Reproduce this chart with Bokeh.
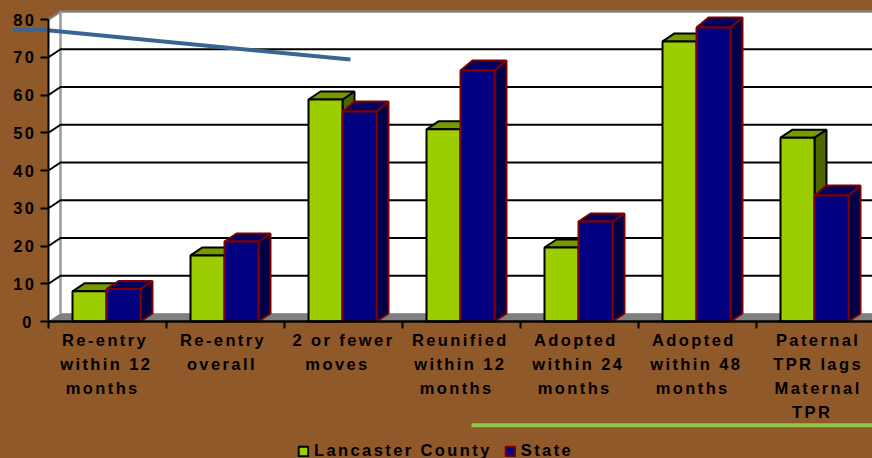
from bokeh.plotting import figure
from bokeh.models import (Range1d, ColumnDataSource, LinearAxis, FixedTicker, Legend, LegendItem,
                          GlobalInlineStyleSheet)
from bokeh.core.properties import value
from bokeh.embed import file_html
from bokeh.resources import INLINE

categories = ["Re-entry\nwithin 12\nmonths", "Re-entry\noverall", "2 or fewer\nmoves",
              "Reunified\nwithin 12\nmonths", "Adopted\nwithin 24\nmonths",
              "Adopted\nwithin 48\nmonths", "Paternal\nTPR lags\nMaternal\nTPR"]
lancaster = [8.0, 17.5, 58.8, 50.9, 19.6, 74.2, 48.7]
state = [8.6, 21.2, 55.6, 66.5, 26.5, 77.9, 33.4]
y_ticks = [0, 10, 20, 30, 40, 50, 60, 70, 80]
accent_blue_x = [-0.805, -0.53, 2.059]
accent_blue_y = [77.2, 77.2, 69.4]
accent_green_x = [3.085, 6.49]
accent_green_y = [-27.5, -27.5]

W, H = 872, 458
PX_PER_CAT = 118.0
PX_PER_UNIT = 3.775
X0_PX = 107.0
Y0_PX = 321.0
dx = 12 / PX_PER_CAT
dy = 8 / PX_PER_UNIT
bar_w = 34 / PX_PER_CAT
bar_shift = -1 / PX_PER_CAT

BROWN = "#8F5929"
FONT = "Liberation Sans"
FS = "16.5px"
n = len(categories)
xl = -0.5
xr = (W - X0_PX) / PX_PER_CAT
ytop = 80

p = figure(width=W, height=H, output_backend="svg", toolbar_location=None,
           x_range=Range1d(-X0_PX / PX_PER_CAT, xr),
           y_range=Range1d(-(H - Y0_PX) / PX_PER_UNIT, Y0_PX / PX_PER_UNIT),
           x_axis_location=None, y_axis_location=None,
           min_border=0, min_border_left=0, min_border_right=0, min_border_top=0, min_border_bottom=0,
           background_fill_color=BROWN, border_fill_color=BROWN, outline_line_color=None)
p.grid.visible = False
p.styles = {"letter-spacing": "2.4px"}
p.stylesheets = [GlobalInlineStyleSheet(css=f"html,body{{margin:0;padding:0;overflow:hidden;background:{BROWN}}}")]

# walls and floor
p.patch([xl, xl + dx, xl + dx, xl], [0, dy, ytop + dy, ytop], fill_color="white", line_color=None)
p.patch([xl + dx, xr, xr, xl + dx], [dy, dy, ytop + dy, ytop + dy], fill_color="white", line_color=None)
p.patch([xl, xl + dx, xr, xr], [0, dy, dy, 0], fill_color="#808080", line_color=None)
p.line([xl, xl + dx, xr], [ytop, ytop + dy, ytop + dy], line_color="#808080", line_width=2.5)
p.line([xl + dx, xl + dx], [dy, ytop + dy], line_color="#9A9A9A", line_width=2.5)

# gridlines
gv = [t for t in y_ticks if 0 < t < 80]
p.multi_line([[xl, xl + dx, xr] for _ in gv], [[t, t + dy, t + dy] for t in gv],
             line_color="black", line_width=2)


def bars(values, offset, face, top, side, edge, tall_depth):
    xs = [i + offset + bar_shift for i in range(n)]
    dd = [(tall_depth if v > 30 else 8) / PX_PER_UNIT for v in values]
    p.patches([[x + bar_w / 2, x + bar_w / 2 + dx, x + bar_w / 2 + dx, x + bar_w / 2] for x in xs],
              [[0, dy, v + d, v] for v, d in zip(values, dd)],
              fill_color=side, line_color=edge, line_width=2)
    p.patches([[x - bar_w / 2, x - bar_w / 2 + dx, x + bar_w / 2 + dx, x + bar_w / 2] for x in xs],
              [[v, v + d, v + d, v] for v, d in zip(values, dd)],
              fill_color=top, line_color=edge, line_width=2)
    return p.vbar(x=xs, top=values, bottom=0, width=bar_w, fill_color=face,
                  line_color=edge, line_width=2)


r_green = bars(lancaster, -bar_w / 2, "#9BCD00", "#769A00", "#4F6600", "black", 8)
r_state = bars(state, bar_w / 2, "#000080", "#000060", "#000048", "#800000", 10)

# accents
p.line(accent_blue_x, accent_blue_y, line_color="#3A6491", line_width=4)
p.line(accent_green_x, accent_green_y, line_color="#8CC84B", line_width=4)

# axes
yax = LinearAxis(ticker=FixedTicker(ticks=y_ticks), fixed_location=xl, bounds=(0, 80))
yax.axis_line_color = "black"; yax.axis_line_width = 2
yax.major_tick_line_color = "black"; yax.major_tick_line_width = 2
yax.major_tick_out = 8; yax.major_tick_in = 0; yax.minor_tick_line_color = None
yax.major_label_text_font = FONT; yax.major_label_text_font_size = FS
yax.major_label_text_font_style = "bold"; yax.major_label_text_color = "black"
yax.major_label_standoff = 9
p.add_layout(yax, "left")

xax = LinearAxis(ticker=FixedTicker(ticks=[i - 0.5 for i in range(n + 1)]), fixed_location=0, bounds=(xl, xr))
xax.axis_line_color = "black"; xax.axis_line_width = 2.5
xax.major_tick_line_color = "black"; xax.major_tick_line_width = 2
xax.major_tick_out = 7; xax.major_tick_in = 0; xax.minor_tick_line_color = None
xax.major_label_text_color = None
xax.major_label_text_font_size = "1px"
p.add_layout(xax, "below")

src = ColumnDataSource(dict(x=list(range(n)), y=[0] * n, t=categories, xo=[-12] * 6 + [-7]))
p.text("x", "y", text="t", source=src, x_offset="xo", y_offset=9, text_align="center", text_baseline="top",
       text_font=value(FONT), text_font_size=FS, text_font_style="bold", text_color="black",
       text_line_height=1.34)

legend = Legend(items=[LegendItem(label="Lancaster County", renderers=[r_green]),
                       LegendItem(label="State", renderers=[r_state])],
                orientation="horizontal", location=(297, -2), background_fill_alpha=0,
                border_line_color=None, glyph_width=12, glyph_height=12, label_standoff=5,
                spacing=12, padding=0, margin=0, label_text_font=FONT, label_text_font_size=FS,
                label_text_font_style="bold", label_text_color="black", label_height=12)
p.add_layout(legend, "center")

open("out.html", "w").write(file_html(p, INLINE))
